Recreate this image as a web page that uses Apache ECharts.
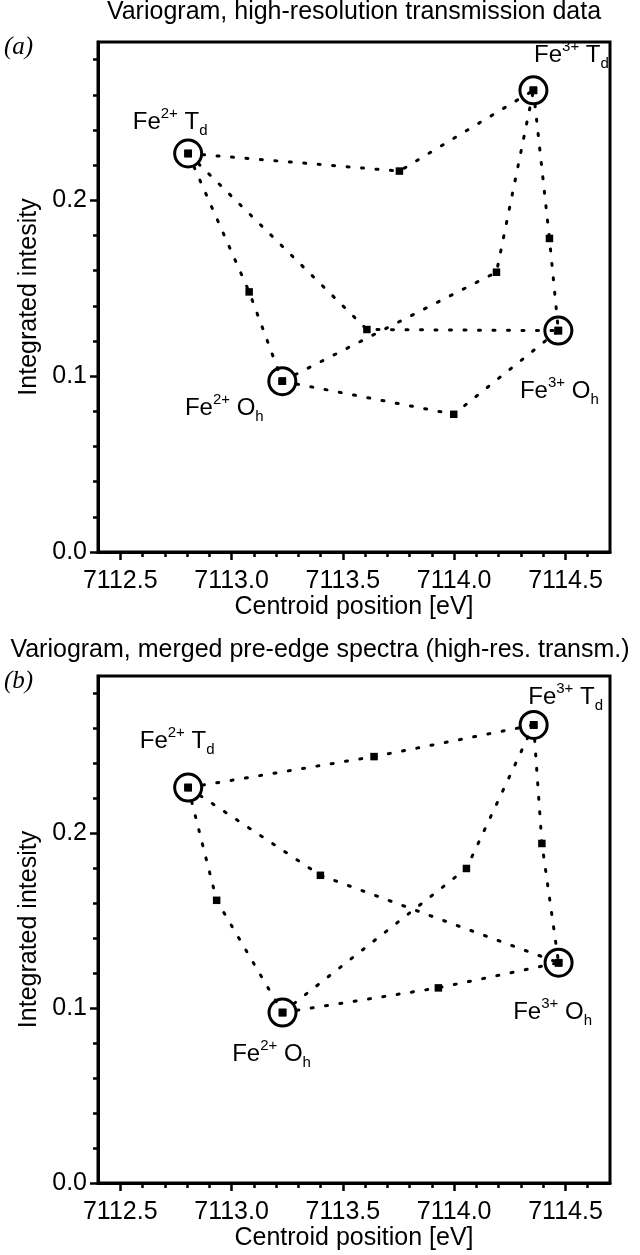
<!DOCTYPE html>
<html>
<head>
<meta charset="utf-8">
<script src="https://cdn.jsdelivr.net/npm/echarts@6/dist/echarts.min.js"></script>
<style>
  html, body { margin: 0; padding: 0; background: #fff; }
  #chart { width: 640px; height: 1255px; }
</style>
</head>
<body>
<div id="chart"></div>
<script>
  // end members (circled) and the middle point of each variogram leg
  var endNames = ['Fe{sup|2+} T{sub|d}', 'Fe{sup|3+} T{sub|d}', 'Fe{sup|2+} O{sub|h}', 'Fe{sup|3+} O{sub|h}'];
  // pairs of end members joined by a dotted leg (index into endNames)
  var legPairs = [[0, 1], [0, 2], [0, 3], [2, 1], [1, 3], [2, 3]];

  // (a) high-resolution transmission data
  var endA = [[7112.805, 0.2266], [7114.356, 0.2625], [7113.228, 0.0971], [7114.468, 0.1259]];
  var midA = [[7113.754, 0.2166], [7113.079, 0.1479], [7113.608, 0.1265], [7114.190, 0.1591], [7114.428, 0.1783], [7113.998, 0.0783]];

  // (b) merged pre-edge spectra
  var endB = [[7112.805, 0.2262], [7114.357, 0.2620], [7113.229, 0.0975], [7114.469, 0.1260]];
  var midB = [[7113.640, 0.2439], [7112.933, 0.1617], [7113.399, 0.1760], [7114.055, 0.1799], [7114.394, 0.1942], [7113.929, 0.1116]];

  // ticks
  var xMajor = [7112.5, 7113.0, 7113.5, 7114.0, 7114.5];
  var xMinor = [7112.6, 7112.7, 7112.8, 7112.9, 7113.1, 7113.2, 7113.3, 7113.4, 7113.6, 7113.7, 7113.8, 7113.9,
                7114.1, 7114.2, 7114.3, 7114.4, 7114.6];
  var yMajor = [0, 0.1, 0.2];
  var yMinor = [0.02, 0.04, 0.06, 0.08, 0.12, 0.14, 0.16, 0.18, 0.22, 0.24, 0.26, 0.28];

  // where the Fe labels sit relative to their circle (px)
  var labelOffA = [[-18, -31], [38, -35], [-58, 27], [1, 61]];
  var labelOffB = [[-11, -46], [32, -28], [-11, 42], [-6, 50]];

  var FONT = 'Liberation Sans, Arial, sans-serif';
  var black = '#000';

  var chart = echarts.init(document.getElementById('chart'), null, {renderer: 'canvas'});

  function xAxes(g) {
    return [{
      type: 'value', gridIndex: g, min: 7112.4, max: 7114.7, position: 'bottom',
      axisLine: {show: true, onZero: false, lineStyle: {color: black, width: 3}},
      axisTick: {show: true, customValues: xMinor, length: 5, lineStyle: {color: black, width: 2.5}},
      axisLabel: {customValues: xMajor, formatter: function (v) { return v.toFixed(1); },
                  color: black, fontSize: 25, fontFamily: FONT, margin: 17},
      splitLine: {show: false},
      name: 'Centroid position [eV]', nameLocation: 'middle', nameGap: 43,
      nameTextStyle: {color: black, fontSize: 25, fontFamily: FONT}
    }, {
      type: 'value', gridIndex: g, min: 7112.4, max: 7114.7, position: 'bottom',
      axisLine: {show: false},
      axisTick: {show: true, customValues: xMajor, length: 8, lineStyle: {color: black, width: 2.5}},
      axisLabel: {show: false},
      splitLine: {show: false}
    }];
  }

  function yAxes(g) {
    return [{
      type: 'value', gridIndex: g, min: 0, max: 0.29, position: 'left',
      axisLine: {show: true, onZero: false, lineStyle: {color: black, width: 3}},
      axisTick: {show: true, customValues: yMinor, length: 5, lineStyle: {color: black, width: 2.5}},
      axisLabel: {customValues: yMajor, formatter: function (v) { return v.toFixed(1); },
                  color: black, fontSize: 25, fontFamily: FONT, margin: 11},
      splitLine: {show: false},
      name: 'Integrated intesity', nameLocation: 'middle', nameGap: 42,
      nameTextStyle: {color: black, fontSize: 25, fontFamily: FONT}
    }, {
      type: 'value', gridIndex: g, min: 0, max: 0.29, position: 'left',
      axisLine: {show: false},
      axisTick: {show: true, customValues: yMajor, length: 8, lineStyle: {color: black, width: 2.5}},
      axisLabel: {show: false},
      splitLine: {show: false}
    }];
  }

  function panelSeries(ends, mids, offs, g) {
    var out = [];
    legPairs.forEach(function (p, i) {
      out.push({
        type: 'line', xAxisIndex: 2 * g, yAxisIndex: 2 * g,
        data: [ends[p[0]], mids[i], ends[p[1]]],
        symbol: 'rect', symbolSize: 7.5, showSymbol: true,
        itemStyle: {color: black, opacity: 1},
        lineStyle: {color: black, width: 3, type: [2, 12.5], cap: 'round'},
        silent: true, z: 2
      });
    });
    out.push({
      type: 'scatter', xAxisIndex: 2 * g, yAxisIndex: 2 * g,
      symbol: 'circle', symbolSize: 27,
      itemStyle: {color: 'rgba(0,0,0,0)', borderColor: black, borderWidth: 3, opacity: 1},
      data: ends.map(function (e, k) {
        return {
          value: e,
          label: {
            show: true, position: 'inside', offset: offs[k],
            formatter: endNames[k],
            color: black, fontSize: 24, fontFamily: FONT, lineHeight: 32,
            textBorderWidth: 0,
            rich: {
              sup: {fontSize: 15, fontFamily: FONT, color: black, verticalAlign: 'top', lineHeight: 17},
              sub: {fontSize: 15, fontFamily: FONT, color: black, verticalAlign: 'bottom', lineHeight: 13}
            }
          }
        };
      }),
      silent: true, z: 3
    });
    return out;
  }

  var option = {
    animation: false,
    backgroundColor: '#fff',
    title: [{
      text: 'Variogram, high-resolution transmission data',
      left: 354, top: 0, textAlign: 'center', padding: 0,
      textStyle: {color: black, fontSize: 25, fontWeight: 'normal', fontFamily: FONT}
    }, {
      text: 'Variogram, merged pre-edge spectra (high-res. transm.)',
      left: 320, top: 638, textAlign: 'center', padding: 0,
      textStyle: {color: black, fontSize: 25, fontWeight: 'normal', fontFamily: FONT}
    }],
    graphic: [
      {type: 'text', left: 4, top: 35, style: {text: '(a)', fill: black, font: 'italic 25px Liberation Serif, Times New Roman, serif'}},
      {type: 'text', left: 4, top: 669, style: {text: '(b)', fill: black, font: 'italic 25px Liberation Serif, Times New Roman, serif'}}
    ],
    grid: [
      {left: 98, top: 42, width: 512, height: 510, show: true, borderColor: black, borderWidth: 3, backgroundColor: 'transparent'},
      {left: 98, top: 676, width: 512, height: 507, show: true, borderColor: black, borderWidth: 3, backgroundColor: 'transparent'}
    ],
    xAxis: xAxes(0).concat(xAxes(1)),
    yAxis: yAxes(0).concat(yAxes(1)),
    series: panelSeries(endA, midA, labelOffA, 0).concat(panelSeries(endB, midB, labelOffB, 1))
  };

  chart.setOption(option);
</script>
</body>
</html>
